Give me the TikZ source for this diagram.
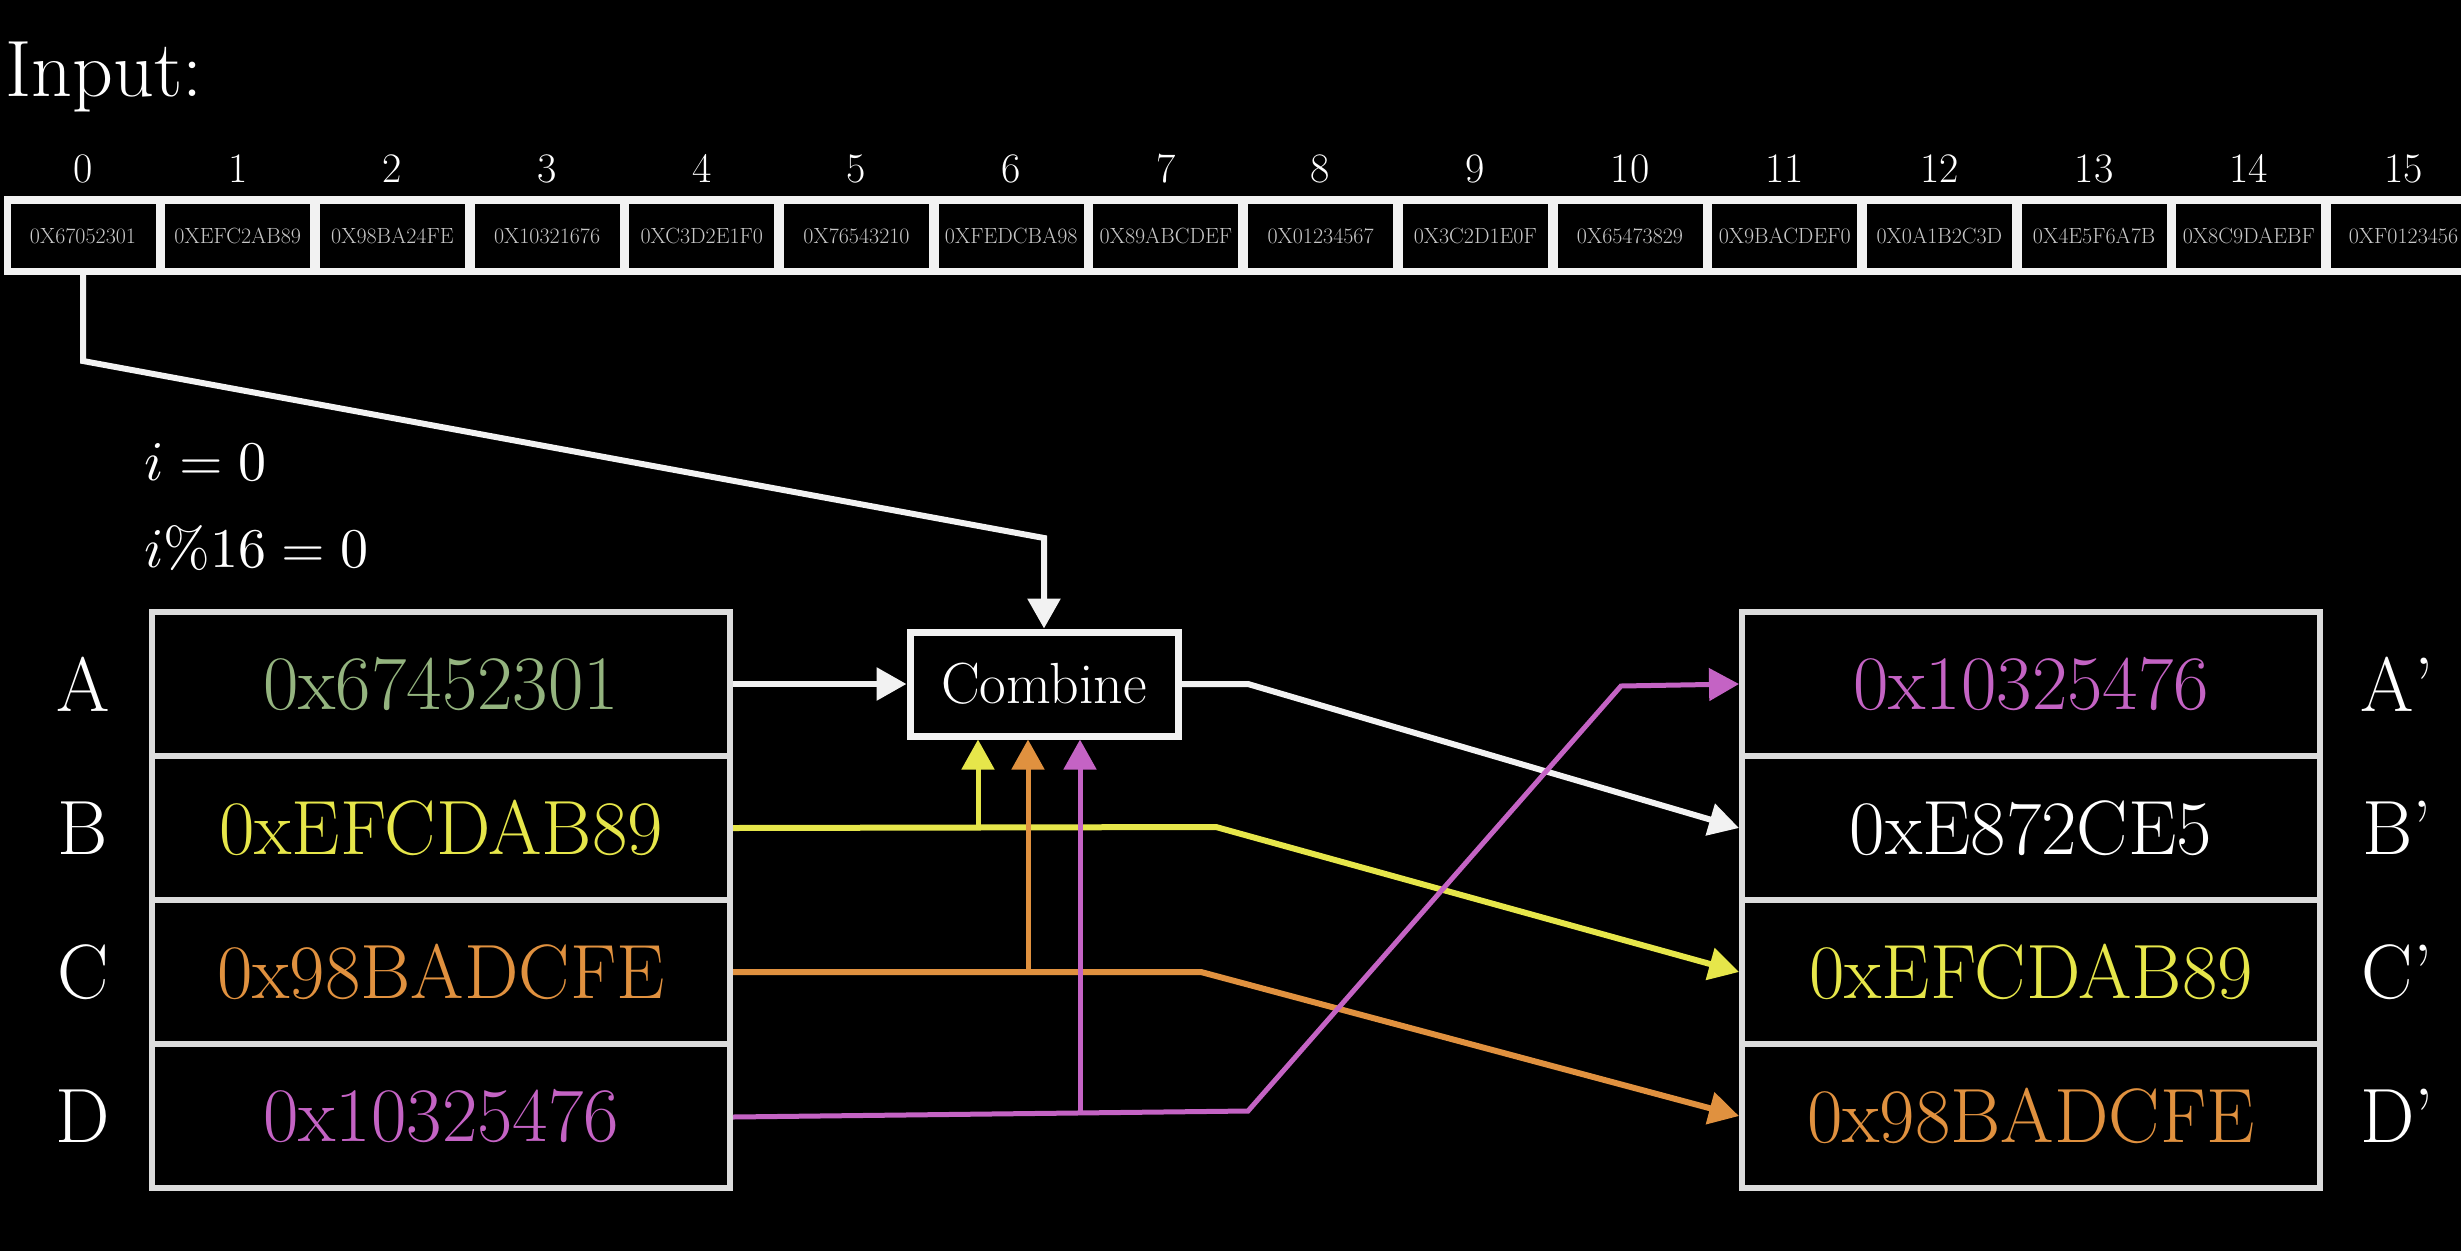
\documentclass[tikz,border=0pt]{standalone}
\usepackage{unicode-math}
\usetikzlibrary{arrows.meta}
\definecolor{ga}{HTML}{94B47F}
\definecolor{yl}{HTML}{E6E64A}
\definecolor{og}{HTML}{E0913F}
\definecolor{mg}{HTML}{C463C4}
\definecolor{wl}{HTML}{F2F2F2}
\definecolor{bl}{HTML}{DCDCDC}
\definecolor{cellt}{HTML}{C8C8C8}
\tikzset{
  reg/.style={draw=bl, line width=6, fill=black, minimum width=578, minimum height=144, inner sep=0, font=\fontsize{77}{80}\selectfont},
  lbl/.style={text=white, inner sep=0, font=\fontsize{77}{80}\selectfont},
  idx/.style={text=white, inner sep=0, anchor=base, font=\fontsize{42}{46}\selectfont},
  cell/.style={fill=black, minimum width=145, minimum height=64, inner sep=0, text=cellt, font=\fontsize{22}{24}\selectfont},
  combbox/.style={draw=wl, line width=7, fill=black, minimum width=268, minimum height=104, inner sep=0, text=white, font=\fontsize{58}{62}\selectfont},
  tip/.style={-{Triangle[length=30pt,width=32pt]}},
  wline/.style={draw=wl, line width=6, tip},
  yline/.style={draw=yl, line width=6, tip},
  oline/.style={draw=og, line width=6, tip},
  mline/.style={draw=mg, line width=5, tip},
}
\begin{document}
\begin{tikzpicture}[x=1pt,y=-1pt]
\useasboundingbox (0,0) rectangle (2461,1251);
\fill[black] (0,0) rectangle (2461,1251);

\node[text=white, inner sep=0, anchor=base west, font=\fontsize{80}{84}\selectfont] (inp) at (5,96) {Input:};

\fill[wl] (4,196) rectangle (2480,275);
\foreach \i/\t in {0/0X67052301,1/0XEFC2AB89,2/0X98BA24FE,3/0X10321676,4/0XC3D2E1F0,5/0X76543210,6/0XFEDCBA98,7/0X89ABCDEF,8/0X01234567,9/0X3C2D1E0F,10/0X65473829,11/0X9BACDEF0,12/0X0A1B2C3D,13/0X4E5F6A7B,14/0X8C9DAEBF,15/0XF0123456}{
  \node[cell] (c\i) at ({83+\i*154.7},236) {\t};
  \node[idx] (n\i) at ({83+\i*154.7},182) {\i};
}

\node[text=white, inner sep=0, anchor=base west, font=\fontsize{56}{60}\selectfont] (iv) at (144,480) {$i = 0$};
\node[text=white, inner sep=0, anchor=base west, font=\fontsize{56}{60}\selectfont] (im) at (144,567) {$i\%16 = 0$};

% left registers
\node[reg, text=ga] (A) at (441,684) {0x67452301};
\node[reg, text=yl] (B) at (441,828) {0xEFCDAB89};
\node[reg, text=og] (C) at (441,972) {0x98BADCFE};
\node[reg, text=mg] (D) at (441,1116) {0x10325476};
\node[lbl] (la) at (83,684) {A};
\node[lbl] (lb) at (83,828) {B};
\node[lbl] (lc) at (83,972) {C};
\node[lbl] (ld) at (83,1116) {D};

% right registers
\node[reg, text=mg] (A2) at (2031,684) {0x10325476};
\node[reg, text=white] (B2) at (2031,828) {0xE872CE5};
\node[reg, text=yl] (C2) at (2031,972) {0xEFCDAB89};
\node[reg, text=og] (D2) at (2031,1116) {0x98BADCFE};
\node[lbl] (la2) at (2397,684) {A’};
\node[lbl] (lb2) at (2397,828) {B’};
\node[lbl] (lc2) at (2397,972) {C’};
\node[lbl] (ld2) at (2397,1116) {D’};

% combine
\node[combbox] (comb) at (1044,684) {Combine};

% input to combine
\coordinate (k1) at (83,361);
\coordinate (k2) at (1044,538);
\draw[wline] (c0.south) -- (k1) -- (k2) -- (comb.north);

% A to combine
\draw[wline] (A.east) -- (comb.west);

% combine to B'
\coordinate (w1) at (1248,684);
\draw[wline] (comb.east) -- (w1) -- (B2.west);

% B to C'
\coordinate (y1) at (1216,827);
\coordinate (yb) at (978,828);
\draw[yline] (B.east) -- (y1) -- (C2.west);
\draw[yline, line width=5] (yb) -- (yb |- comb.south);

% C to D'
\coordinate (o1) at (1201,972);
\coordinate (ob) at (1028,972);
\draw[oline] (C.east) -- (o1) -- (D2.west);
\draw[oline, line width=5] (ob) -- (ob |- comb.south);

% D to A'
\coordinate (m1) at (1248,1111);
\coordinate (m2) at (1621,686);
\coordinate (mb) at (1080,1113);
\draw[mline] ([yshift=-1pt]D.east) -- (m1) -- (m2) -- (A2.west);
\draw[mline] (mb) -- (mb |- comb.south);
\end{tikzpicture}
\end{document}
